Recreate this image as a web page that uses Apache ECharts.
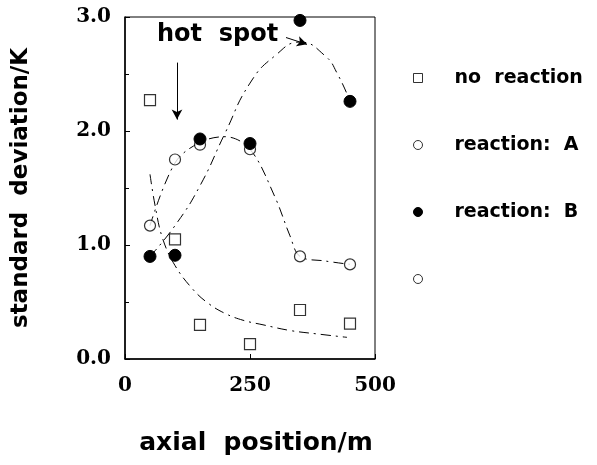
<!DOCTYPE html>
<html>
<head>
<meta charset="utf-8">
<script src="https://cdn.jsdelivr.net/npm/echarts@6/dist/echarts.min.js"></script>
<style>html,body{margin:0;padding:0;background:#fff;}#c{width:597px;height:465px;}</style>
</head>
<body>
<div id="c"></div>
<script>
// axial positions (m)
const positions = [50, 100, 150, 250, 350, 450];
// standard deviation (K)
const noReaction = [2.27, 1.05, 0.30, 0.13, 0.43, 0.31];
const reactionA  = [1.17, 1.75, 1.88, 1.84, 0.90, 0.83];
const reactionB  = [0.90, 0.91, 1.93, 1.89, 2.97, 2.26];
// hand-drawn trend curves
const fitNoReaction = [[50,1.62],[60,1.35],[75,1.06],[100,0.82],[136,0.61],[166,0.49],[200,0.40],[236,0.34],[276,0.30],[330,0.25],[384,0.22],[444,0.19]];
const fitA = [[50,1.17],[100,1.72],[150,1.90],[200,1.95],[250,1.84],[300,1.42],[330,1.08],[350,0.90],[400,0.86],[450,0.83]];
const fitB = [[50,0.90],[100,1.17],[150,1.52],[200,1.98],[250,2.42],[300,2.66],[350,2.78],[400,2.66],[425,2.50],[450,2.26]];
const xTicks = [0, 250, 500];
const yTicks = [0, 1, 2, 3];

const pair = (ys) => positions.map((x, i) => [x, ys[i]]);
const dashDot = { color: '#000', width: 1, type: [10, 5, 2, 5] };
const SANS = 'DejaVu Sans';
const SERIF = 'DejaVu Serif';

const chart = echarts.init(document.getElementById('c'), null, { renderer: 'canvas' });
chart.setOption({
  animation: false,
  backgroundColor: '#fff',
  grid: { left: 125, top: 17, width: 250, height: 342, show: true, borderColor: '#000', borderWidth: 1 },
  xAxis: {
    type: 'value', min: xTicks[0], max: xTicks[xTicks.length - 1], interval: 250,
    name: 'axial  position/m', nameLocation: 'middle', nameGap: 72,
    nameTextStyle: { fontFamily: SANS, fontWeight: 'bold', fontSize: 25, color: '#000', padding: [0, 0, 0, 12] },
    axisLine: { lineStyle: { color: '#000', width: 1.5 } },
    axisTick: { inside: true, length: 5, lineStyle: { color: '#000' } },
    axisLabel: { margin: 17, fontFamily: SERIF, fontWeight: 'bold', fontSize: 20, color: '#000' },
    splitLine: { show: false }
  },
  yAxis: {
    type: 'value', min: yTicks[0], max: yTicks[yTicks.length - 1], interval: 1,
    name: 'standard  deviation/K', nameLocation: 'middle', nameGap: 92,
    nameTextStyle: { fontFamily: SANS, fontWeight: 'bold', fontSize: 23, color: '#000' },
    axisLine: { lineStyle: { color: '#000', width: 1.5 } },
    axisTick: { inside: true, length: 5, lineStyle: { color: '#000' } },
    minorTick: { show: true, splitNumber: 2, length: 4, lineStyle: { color: '#000' } },
    axisLabel: { margin: 14, fontFamily: SERIF, fontWeight: 'bold', fontSize: 20, color: '#000', formatter: v => v.toFixed(1) },
    splitLine: { show: false }
  },
  legend: {
    orient: 'vertical', left: 408, top: 63, itemGap: 47, itemWidth: 9, itemHeight: 9,
    selectedMode: false,
    itemStyle: { borderWidth: 1 },
    data: ['no  reaction', 'reaction:  A', 'reaction:  B', ' '],
    textStyle: { fontFamily: SANS, fontWeight: 'bold', fontSize: 19, color: '#000', padding: [0, 0, 0, 27], lineHeight: 20 }
  },
  graphic: [
    { type: 'text', left: 157, top: 23, style: { text: 'hot  spot', font: 'bold 24px "DejaVu Sans"', fill: '#000' } }
  ],
  series: [
    { type: 'line', data: fitNoReaction, smooth: 0.4, symbol: 'none', lineStyle: dashDot, silent: true, z: 1 },
    { type: 'line', data: fitA, smooth: 0.35, symbol: 'none', lineStyle: dashDot, silent: true, z: 1 },
    { type: 'line', data: fitB, smooth: 0.5, symbol: 'none', lineStyle: dashDot, silent: true, z: 1,
      markLine: {
        silent: true, symbol: ['none', 'arrow'], symbolSize: [8, 10], label: { show: false },
        lineStyle: { color: '#000', width: 1, type: 'solid' },
        data: [
          [{ coord: [104, 2.60] }, { coord: [104, 2.10] }],
          [{ coord: [322, 2.82] }, { coord: [364, 2.76] }]
        ]
      }
    },
    { name: 'no  reaction', type: 'scatter', data: pair(noReaction), symbol: 'rect', symbolSize: 11,
      itemStyle: { color: '#fff', borderColor: '#000', borderWidth: 1.2 }, z: 3 },
    { name: 'reaction:  A', type: 'scatter', data: pair(reactionA), symbol: 'circle', symbolSize: 11,
      itemStyle: { color: '#fff', borderColor: '#000', borderWidth: 1.2 }, z: 3 },
    { name: 'reaction:  B', type: 'scatter', data: pair(reactionB), symbol: 'circle', symbolSize: 12,
      itemStyle: { color: '#000', borderColor: '#000', borderWidth: 1, opacity: 1 }, z: 4 },
    { name: ' ', type: 'scatter', data: [], symbol: 'circle', symbolSize: 11,
      itemStyle: { color: '#fff', borderColor: '#000', borderWidth: 1 } }
  ]
});
</script>
</body>
</html>
